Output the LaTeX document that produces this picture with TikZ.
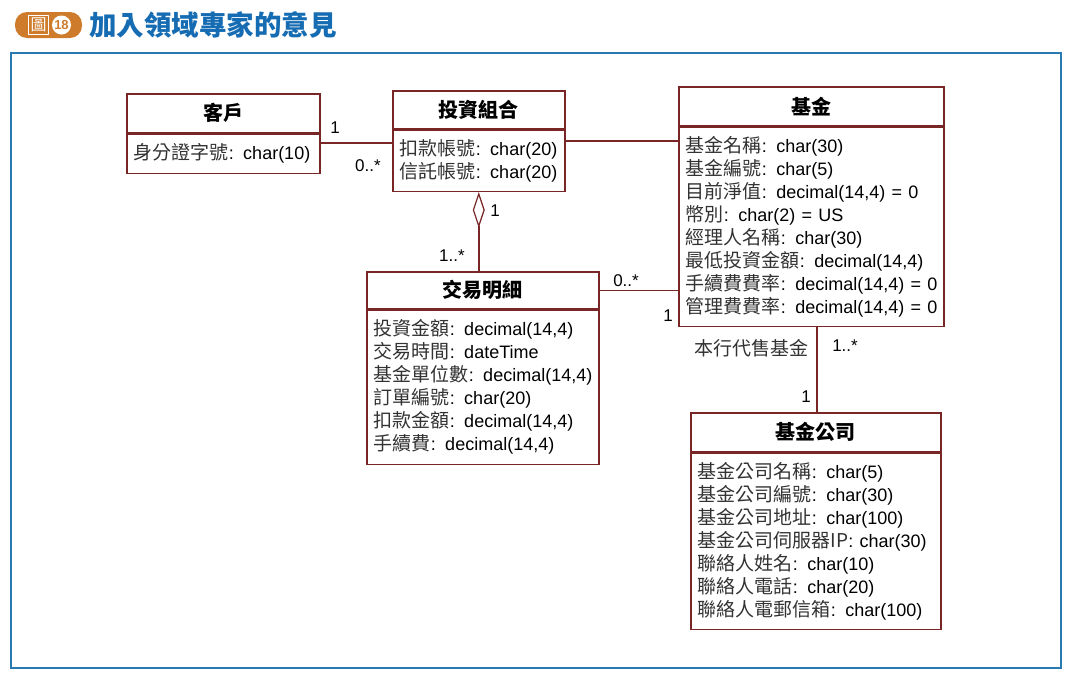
\documentclass[tikz,border=0pt]{standalone}
\usepackage{fontspec}
\setmainfont{Noto Sans CJK TC}
\newfontfamily\latinfont[WordSpace=0.6]{Liberation Sans}
\usetikzlibrary{arrows.meta}
\definecolor{umlred}{RGB}{120,38,38}
\definecolor{frameblue}{RGB}{40,122,176}
\definecolor{titleblue}{RGB}{22,108,178}
\definecolor{badgeorange}{RGB}{206,124,44}
\definecolor{attrgray}{RGB}{50,50,50}
\newcommand\attr[2]{\mbox{#1{\latinfont\fontsize{18}{23}\selectfont\color{black}: #2}}}
\tikzset{
  classhead/.style={draw=umlred,line width=1.5pt,anchor=north west,inner sep=0pt,
    font=\fontsize{20}{24}\selectfont\bfseries},
  classattr/.style={draw=umlred,line width=1.5pt,anchor=north west,inner xsep=7pt,
    inner ysep=0pt,align=left,text=attrgray,font=\fontsize{19}{23}\selectfont},
  mult/.style={inner sep=0pt,font=\latinfont\fontsize{17}{20}\selectfont},
  assoc/.style={draw=umlred,line width=1.5pt}
}
\begin{document}
\begin{tikzpicture}[x=1pt,y=-1pt]
\useasboundingbox (0,0) rectangle (1067,675);
% title
\node[fill=badgeorange,rounded corners=12pt,minimum width=67pt,minimum height=26pt,inner sep=0pt] (badge) at (48.5,25) {};
\node[draw=white,text=white,line width=1pt,inner sep=2pt,font=\fontsize{16}{16}\selectfont] (tu) at (38.5,25) {圖};
\node[circle,fill=white,text=badgeorange,minimum size=19pt,inner sep=0pt,font=\latinfont\fontsize{13}{13}\selectfont\bfseries] (num) at (61.5,25) {18};
\node[anchor=west,inner sep=0pt,text=titleblue,font=\fontsize{27.5}{29}\selectfont\bfseries] (title) at (89,25) {加入領域專家的意見};
\draw[frameblue,line width=1.2pt] (11,53) rectangle (1061,668);
% classes
\node[classhead,minimum width=193pt,minimum height=39pt] (kehu) at (126,93) {客戶};
\node[classattr,text width=179pt,minimum height=39pt] (kehuA) at (kehu.south west) {\attr{身分證字號}{char(10)}};
\node[classhead,minimum width=172pt,minimum height=38pt] (zuhe) at (392,90) {投資組合};
\node[classattr,text width=158pt,minimum height=61pt] (zuheA) at (zuhe.south west) {\attr{扣款帳號}{char(20)}\\\attr{信託帳號}{char(20)}};
\node[classhead,minimum width=265pt,minimum height=39pt] (jijin) at (678,86) {基金};
\node[classattr,text width=251pt,minimum height=199pt] (jijinA) at (jijin.south west) {\attr{基金名稱}{char(30)}\\\attr{基金編號}{char(5)}\\\attr{目前淨值}{decimal(14,4) = 0}\\\attr{幣別}{char(2) = US}\\\attr{經理人名稱}{char(30)}\\\attr{最低投資金額}{decimal(14,4)}\\\attr{手續費費率}{decimal(14,4) = 0}\\\attr{管理費費率}{decimal(14,4) = 0}};
\node[classhead,minimum width=232pt,minimum height=37pt] (jiaoyi) at (366,271) {交易明細};
\node[classattr,text width=218pt,minimum height=154pt] (jiaoyiA) at (jiaoyi.south west) {\attr{投資金額}{decimal(14,4)}\\\attr{交易時間}{dateTime}\\\attr{基金單位數}{decimal(14,4)}\\\attr{訂單編號}{char(20)}\\\attr{扣款金額}{decimal(14,4)}\\\attr{手續費}{decimal(14,4)}};
\node[classhead,minimum width=250pt,minimum height=39pt] (gongsi) at (690,412) {基金公司};
\node[classattr,text width=236pt,minimum height=176pt] (gongsiA) at (gongsi.south west) {\attr{基金公司名稱}{char(5)}\\\attr{基金公司編號}{char(30)}\\\attr{基金公司地址}{char(100)}\\\attr{基金公司伺服器IP}{char(30)}\\\attr{聯絡人姓名}{char(10)}\\\attr{聯絡人電話}{char(20)}\\\attr{聯絡人電郵信箱}{char(100)}};
% associations
\draw[assoc] (kehuA.east |- 0,143) -- (zuheA.west |- 0,143);
\draw[assoc] (zuheA.east |- 0,141) -- (jijinA.west |- 0,141);
\draw[assoc,{Diamond[open,length=36pt,width=12pt,line width=1.2pt]}-] (zuheA.south) -- (zuheA.south |- jiaoyi.north);
\draw[assoc] (jiaoyi.east) -- (jiaoyi.east -| jijinA.west);
\draw[assoc] (gongsi.north -| 817,0) -- (jijinA.south -| 817,0);
% multiplicities
\node[mult] (m1) at (335,128) {1};
\node[mult] (m2) at (368,166) {0..*};
\node[mult] (m3) at (495,211) {1};
\node[mult] (m4) at (452,256) {1..*};
\node[mult] (m5) at (626,281) {0..*};
\node[mult] (m6) at (668,316) {1};
\node[inner sep=0pt,text=attrgray,font=\fontsize{19}{20}\selectfont] (role) at (751,348) {本行代售基金};
\node[mult] (m7) at (845,346) {1..*};
\node[mult] (m8) at (806,397) {1};
\end{tikzpicture}
\end{document}
